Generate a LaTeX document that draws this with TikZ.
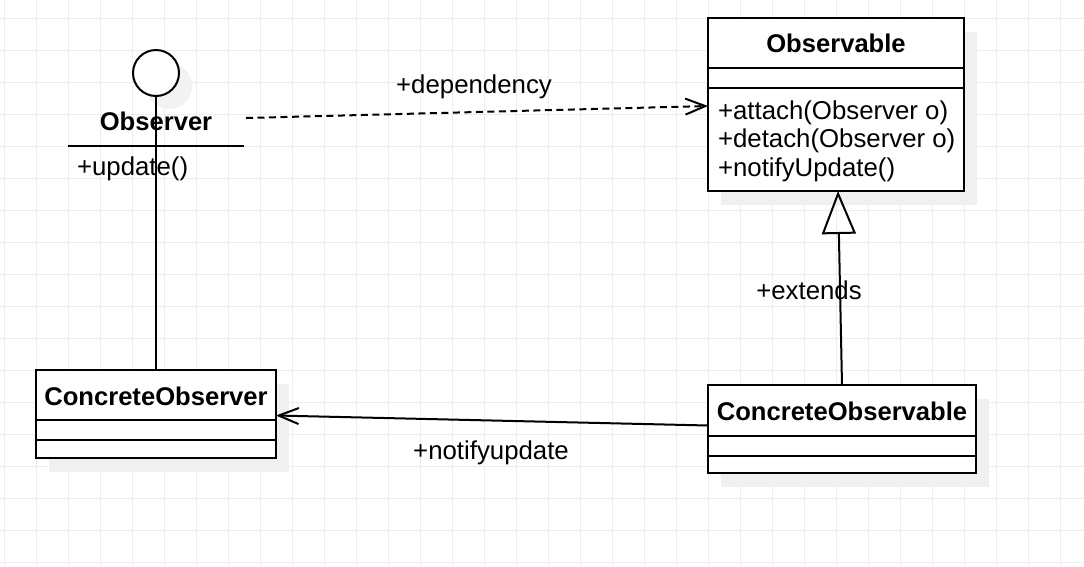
\documentclass[tikz,border=0pt]{standalone}
\usepackage{fontspec}
\setmainfont{Liberation Sans}
\usetikzlibrary{arrows.meta,calc,shadows}
\begin{document}
\begin{tikzpicture}[x=1pt,y=-1pt,
  every node/.style={inner sep=0pt, outer sep=0pt},
  umlfont/.style={font=\fontsize{25.8}{30}\selectfont},
  umlbold/.style={font=\fontsize{25.6}{30}\selectfont\bfseries},
  gridline/.style={draw=black!7, line width=1pt},
  boxshadow/.style={general shadow={fill=black!6, shadow xshift=13pt, shadow yshift=-14pt}},
  umlbox/.style={draw, line width=2.4pt, fill=white, rectangle, boxshadow},
  divider/.style={line width=2.4pt},
  conn/.style={line width=2pt},
  depline/.style={conn, dash pattern=on 7pt off 4.5pt},
  openvee/.style={-{Straight Barb[length=20pt, width=16pt, line width=2pt]}},
  inherit/.style={-{Triangle[open, length=43pt, width=34pt, line width=2pt]}}
]
\useasboundingbox (0,0) rectangle (1084,566);
\fill[white] (0,0) rectangle (1084,566);
% grid
\foreach \i in {0,...,33} \draw[gridline] (4+32*\i,0) -- (4+32*\i,566);
\foreach \j in {0,...,17} \draw[gridline] (0,18+32*\j) -- (1084,18+32*\j);

% Observer interface (lollipop)
\node[circle, draw, line width=2pt, fill=white, minimum size=46pt,
  general shadow={fill=black!5, shadow xshift=13pt, shadow yshift=-13pt}] (iface) at (156,73) {};
\node[umlbold, anchor=base] (obsname) at (156,130) {Observer};
\coordinate (sepL) at (68,146);
\coordinate (sepR) at (244,146);
\draw[conn] (sepL) -- (sepR);
\node[umlfont, anchor=base west] (obsop) at (77,175) {+update()};

% Observable class
\node[umlbox, minimum width=256pt, minimum height=173pt] (obs) at (836,104.5) {};
\node[umlbold, anchor=base] (obstitle) at (836,52) {Observable};
\draw[divider] ($(obs.north west)+(0,50)$) -- ($(obs.north east)+(0,50)$);
\draw[divider] ($(obs.north west)+(0,70)$) -- ($(obs.north east)+(0,70)$);
\node[umlfont, anchor=base west] (m1) at (718,119) {+attach(Observer o)};
\node[umlfont, anchor=base west] (m2) at (718,147.5) {+detach(Observer o)};
\node[umlfont, anchor=base west] (m3) at (718,176) {+notifyUpdate()};

% ConcreteObservable class
\node[umlbox, minimum width=268pt, minimum height=88pt] (cobl) at (842,429) {};
\node[umlbold, anchor=base] (cobltitle) at (842,420) {ConcreteObservable};
\draw[divider] ($(cobl.north west)+(0,51)$) -- ($(cobl.north east)+(0,51)$);
\draw[divider] ($(cobl.north west)+(0,71)$) -- ($(cobl.north east)+(0,71)$);

% ConcreteObserver class
\node[umlbox, minimum width=240pt, minimum height=88pt] (cobs) at (156,414) {};
\node[umlbold, anchor=base] (cobstitle) at (156,405) {ConcreteObserver};
\draw[divider] ($(cobs.north west)+(0,50)$) -- ($(cobs.north east)+(0,50)$);
\draw[divider] ($(cobs.north west)+(0,70)$) -- ($(cobs.north east)+(0,70)$);

% labels
\node[umlfont, anchor=base] (deplabel) at (474,93) {+dependency};
\node[umlfont, anchor=base] (extlabel) at (809,299) {+extends};
\node[umlfont, anchor=base] (notlabel) at (491,459.5) {+notifyupdate};

% connectors
\draw[conn] (iface.south) -- (cobs.north);
\coordinate (depstart) at (246,118);
\draw[depline, openvee] (depstart) -- ($(obs.west)+(0,1.5)$);
\draw[conn, inherit] (cobl.north) -- ($(obs.south)+(2,0)$);
\draw[conn, openvee] ($(cobl.west)+(0,-3.5)$) -- ($(cobs.east)+(0,1.5)$);
\end{tikzpicture}
\end{document}
